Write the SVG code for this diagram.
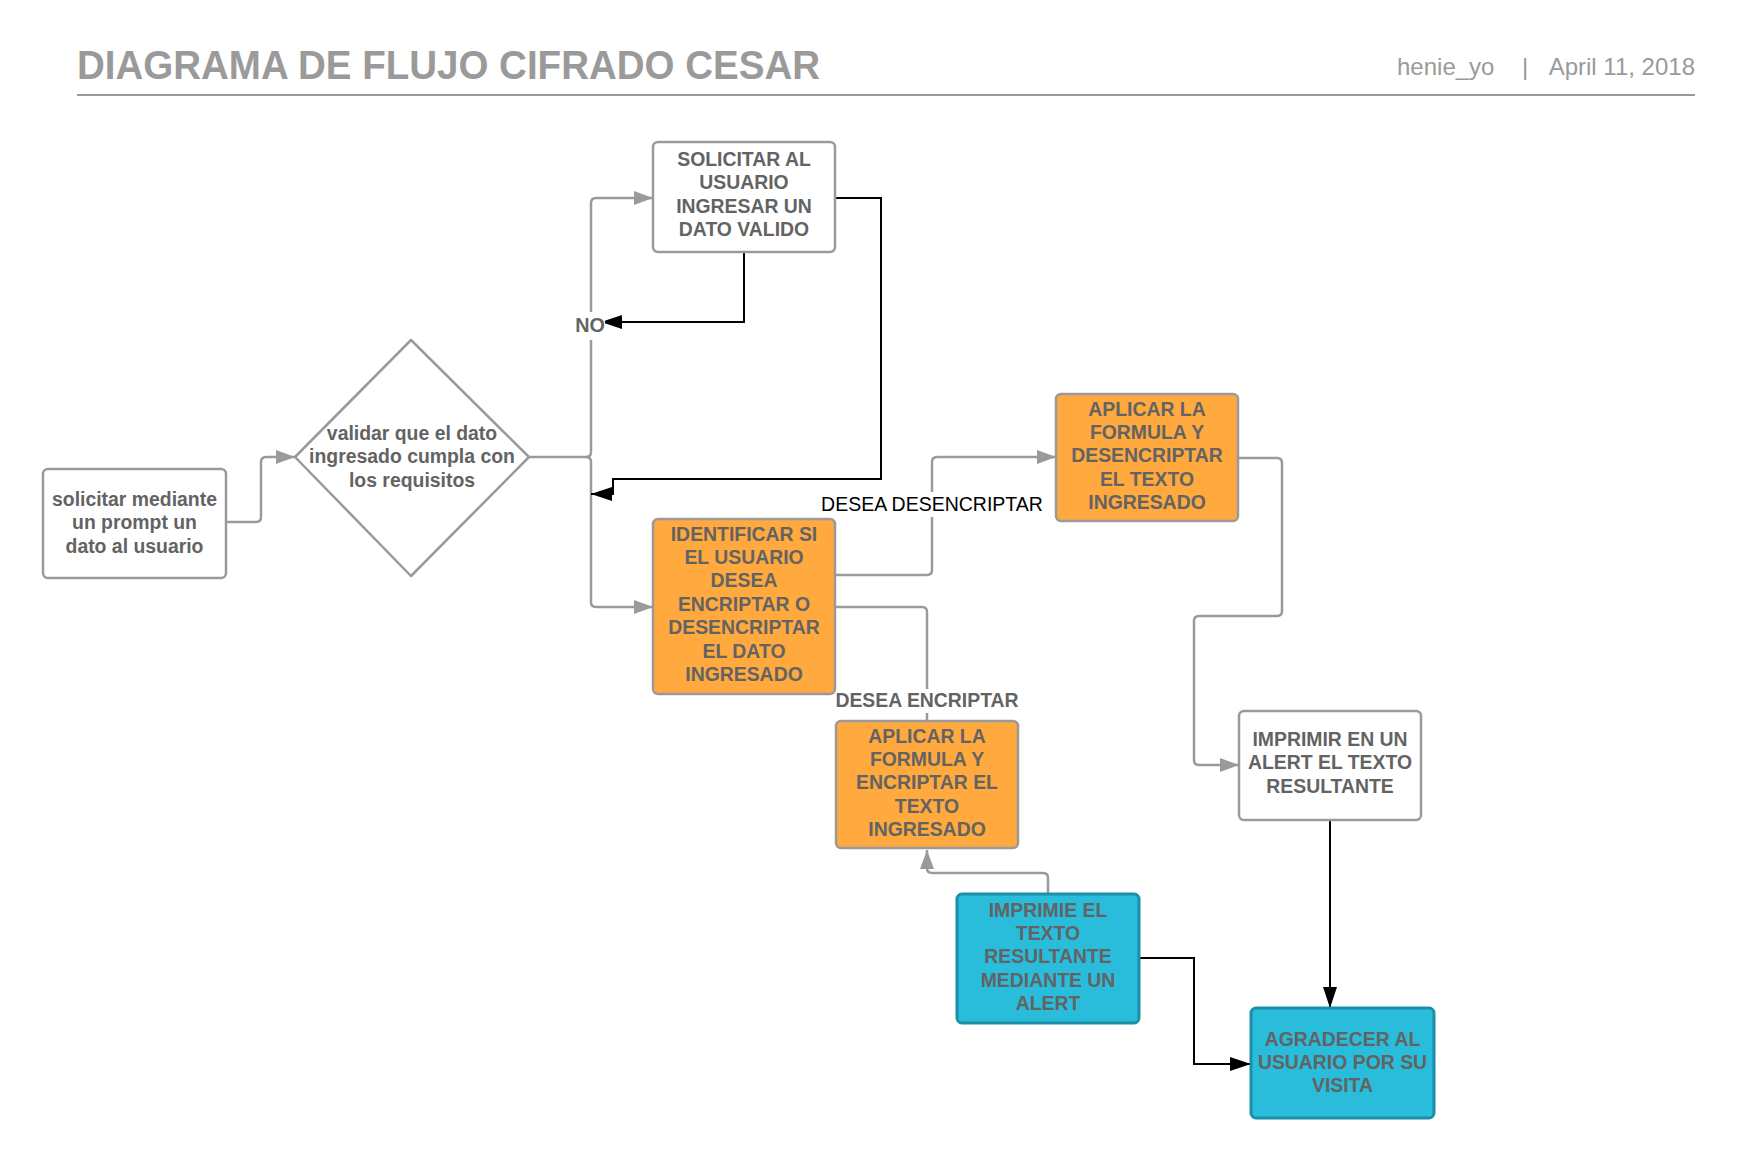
<svg xmlns="http://www.w3.org/2000/svg" width="1739" height="1162" viewBox="0 0 1739 1162">
<style>
.node{fill:#ffffff;stroke:#9a9a9a;stroke-width:2.5}
.orange{fill:#FFA93F;stroke:#9a9a9a;stroke-width:2.5}
.blue{fill:#29BCDB;stroke:#1A8FA7;stroke-width:3}
.t{font-family:"Liberation Sans",Arial,sans-serif;font-weight:bold;font-size:19.4px;fill:#636363;text-anchor:middle}
.g{fill:none;stroke:#9a9a9a;stroke-width:2.5}
.k{fill:none;stroke:#000000;stroke-width:2}
.hdr{font-family:"Liberation Sans",Arial,sans-serif;fill:#9a9a9a}
</style>
<defs>
<marker id="ag" markerUnits="userSpaceOnUse" markerWidth="20" markerHeight="16" refX="19" refY="8" orient="auto"><path d="M0,1 L19,8 L0,15 z" fill="#9a9a9a"/></marker>
<marker id="ak" markerUnits="userSpaceOnUse" markerWidth="22" markerHeight="16" refX="21" refY="8" orient="auto"><path d="M0,1 L21,8 L0,15 z" fill="#000000"/></marker>
</defs>
<rect width="1739" height="1162" fill="#ffffff"/>
<g id="header">
<text class="hdr" x="77" y="79" font-size="40" font-weight="bold" textLength="743" lengthAdjust="spacingAndGlyphs">DIAGRAMA DE FLUJO CIFRADO CESAR</text>
<line x1="77" y1="95" x2="1695" y2="95" stroke="#9a9a9a" stroke-width="2"/>
<text class="hdr" x="1397" y="75" font-size="24">henie_yo</text>
<text class="hdr" x="1525" y="75" font-size="24" text-anchor="middle">|</text>
<text class="hdr" x="1695" y="75" font-size="24" text-anchor="end">April 11, 2018</text>
</g>
<g id="connectors">
<path class="g" d="M226,522 H256 Q261,522 261,517 V462 Q261,457 266,457 H295" marker-end="url(#ag)"/>
<path class="g" d="M529,457 H586 Q591,457 591,452 V203 Q591,198 596,198 H653" marker-end="url(#ag)"/>
<path class="g" d="M586,457 Q591,457 591,462 V602 Q591,607 596,607 H653" marker-end="url(#ag)"/>
<path class="k" d="M744,252 V322 H601" marker-end="url(#ak)"/>
<path class="k" d="M835,198 H881 V479 H613 V494 H591" marker-end="url(#ak)"/>
<path class="g" d="M835,575 H927 Q932,575 932,570 V462 Q932,457 937,457 H1056" marker-end="url(#ag)"/>
<path class="g" d="M835,607 H922 Q927,607 927,612 V721"/>
<path class="g" d="M1238,458 H1277 Q1282,458 1282,463 V611 Q1282,616 1277,616 H1199 Q1194,616 1194,621 V760 Q1194,765 1199,765 H1239" marker-end="url(#ag)"/>
<path class="g" d="M1048,894 V878 Q1048,873 1043,873 H932 Q927,873 927,868 V850" marker-end="url(#ag)"/>
<path class="k" d="M1139,958 H1194 V1064 H1251" marker-end="url(#ak)"/>
<path class="k" d="M1330,820 V1008" marker-end="url(#ak)"/>
<g id="labels">
<rect x="575" y="312" width="30" height="28" fill="#ffffff"/>
<text x="590" y="332" font-family="Liberation Sans, Arial, sans-serif" font-weight="bold" font-size="19.8" fill="#636363" text-anchor="middle">NO</text>
<rect x="818" y="492" width="228" height="25" fill="#ffffff"/>
<text x="932" y="511" font-family="Liberation Sans, Arial, sans-serif" font-size="19.5" fill="#000000" text-anchor="middle">DESEA DESENCRIPTAR</text>
<rect x="832" y="689" width="190" height="24" fill="#ffffff"/>
<text class="t" x="927" y="707">DESEA ENCRIPTAR</text>
</g>
</g>
<g id="n1">
<rect class="node" x="43" y="469" width="183" height="109" rx="5"/>
<text class="t" x="134.5" y="506">solicitar mediante</text>
<text class="t" x="134.5" y="529.4">un prompt un</text>
<text class="t" x="134.5" y="552.8">dato al usuario</text>
</g>
<g id="n2">
<polygon class="node" points="411,340 529,457 411,576 295,457" stroke-linejoin="round"/>
<text class="t" x="412" y="440">validar que el dato</text>
<text class="t" x="412" y="463.4">ingresado cumpla con</text>
<text class="t" x="412" y="486.8">los requisitos</text>
</g>
<g id="n3">
<rect class="node" x="653" y="142" width="182" height="110" rx="5"/>
<text class="t" x="744" y="166">SOLICITAR AL</text>
<text class="t" x="744" y="189.4">USUARIO</text>
<text class="t" x="744" y="212.8">INGRESAR UN</text>
<text class="t" x="744" y="236.2">DATO VALIDO</text>
</g>
<g id="n4">
<rect class="orange" x="653" y="519" width="182" height="175" rx="5"/>
<text class="t" x="744" y="540.5">IDENTIFICAR SI</text>
<text class="t" x="744" y="563.9">EL USUARIO</text>
<text class="t" x="744" y="587.3">DESEA</text>
<text class="t" x="744" y="610.7">ENCRIPTAR O</text>
<text class="t" x="744" y="634.1">DESENCRIPTAR</text>
<text class="t" x="744" y="657.5">EL DATO</text>
<text class="t" x="744" y="680.9">INGRESADO</text>
</g>
<g id="n5">
<rect class="orange" x="1056" y="394" width="182" height="127" rx="5"/>
<text class="t" x="1147" y="415.5">APLICAR LA</text>
<text class="t" x="1147" y="438.9">FORMULA Y</text>
<text class="t" x="1147" y="462.3">DESENCRIPTAR</text>
<text class="t" x="1147" y="485.7">EL TEXTO</text>
<text class="t" x="1147" y="509.1">INGRESADO</text>
</g>
<g id="n6">
<rect class="orange" x="836" y="721" width="182" height="127" rx="5"/>
<text class="t" x="927" y="742.5">APLICAR LA</text>
<text class="t" x="927" y="765.9">FORMULA Y</text>
<text class="t" x="927" y="789.3">ENCRIPTAR EL</text>
<text class="t" x="927" y="812.7">TEXTO</text>
<text class="t" x="927" y="836.1">INGRESADO</text>
</g>
<g id="n7">
<rect class="node" x="1239" y="711" width="182" height="109" rx="5"/>
<text class="t" x="1330" y="746">IMPRIMIR EN UN</text>
<text class="t" x="1330" y="769.4">ALERT EL TEXTO</text>
<text class="t" x="1330" y="792.8">RESULTANTE</text>
</g>
<g id="n8">
<rect class="blue" x="957" y="894" width="182" height="129" rx="5"/>
<text class="t" x="1048" y="916.5">IMPRIMIE EL</text>
<text class="t" x="1048" y="939.9">TEXTO</text>
<text class="t" x="1048" y="963.3">RESULTANTE</text>
<text class="t" x="1048" y="986.7">MEDIANTE UN</text>
<text class="t" x="1048" y="1010.1">ALERT</text>
</g>
<g id="n9">
<rect class="blue" x="1251" y="1008" width="183" height="110" rx="5"/>
<text class="t" x="1342.5" y="1045.5">AGRADECER AL</text>
<text class="t" x="1342.5" y="1068.9">USUARIO POR SU</text>
<text class="t" x="1342.5" y="1092.3">VISITA</text>
</g>
</svg>
